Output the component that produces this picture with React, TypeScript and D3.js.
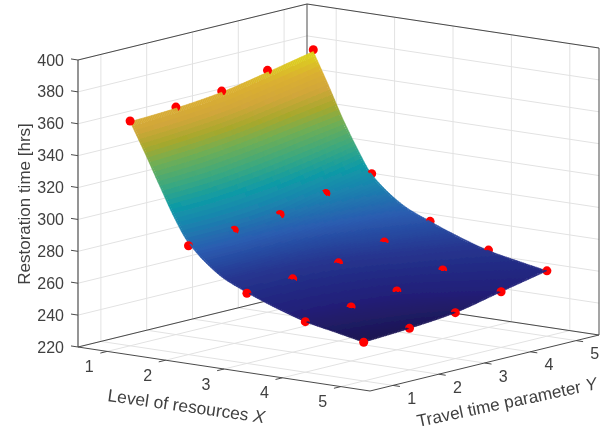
import React from "react";
import * as d3 from "d3";

const width = 613;
const height = 432;

// measured data points (red dots), rows are X = 1..5, columns are Y = 1..5
const levelX = [1, 2, 3, 4, 5];
const paramY = [1, 2, 3, 4, 5];
const dotsX1 = [361, 362.7, 365.7, 371.7, 377.6];
const dotsX2 = [288.3, 291, 293.8, 300, 305.4];
const dotsX3 = [264, 266, 269, 275, 281];
const dotsX4 = [251.7, 253.9, 256.9, 263, 268.5];
const dotsX5 = [244.3, 246, 248.8, 254.9, 261];
const dotRows = [dotsX1, dotsX2, dotsX3, dotsX4, dotsX5];

// fitted surface
const surfX = [1, 1.25, 1.5, 1.75, 2, 2.5, 3, 3.5, 4, 4.5, 5];
const surfRows = [
  [360.5, 362, 365, 370.5, 376.5],
  [342.5, 344.5, 347.5, 352.5, 357.5],
  [323.5, 325, 328.5, 333, 337.5],
  [305, 306, 309, 314, 320],
  [290, 290.3, 293, 299.3, 305],
  [273.5, 274.5, 277.5, 283.5, 289.5],
  [264.5, 265.5, 268.5, 274.8, 281],
  [257.5, 259, 262, 268, 274],
  [251.7, 253.2, 256.2, 262.5, 268.2],
  [248, 249.5, 252.3, 258.5, 264.4],
  [244.3, 246, 248.8, 254.9, 261],
];

const xTicks = [1, 2, 3, 4, 5];
const yTicks = [1, 2, 3, 4, 5];
const zTicks = [220, 240, 260, 280, 300, 320, 340, 360, 380, 400];

const colorStops = [244, 255, 270, 285, 300, 310, 322, 335, 345, 355, 365, 378];
const colorValues = [
  "#1c1650", "#231f78", "#25358f", "#2a5cb0", "#1a85ae", "#0f9aa6",
  "#3aa880", "#6fae55", "#a7a82c", "#d1a63a", "#dbb030", "#dcdc18",
];

const color = d3.scaleLinear<string>().domain(colorStops).range(colorValues).clamp(true);

const uScale = d3.scaleLinear().domain([0.5, 5.5]).range([0, 1]);
const vScale = d3.scaleLinear().domain([0.5, 5.5]).range([0, 1]);
const wScale = d3.scaleLinear().domain([220, 400]).range([0, 1]);

// oblique view of the unit box
const origin = [78, 347];
const ex = [292, 44];
const ey = [229, -56];
const ez = [0, -287];

const project = (x: number, y: number, z: number): [number, number] => {
  const u = uScale(x);
  const v = vScale(y);
  const w = wScale(z);
  return [
    origin[0] + u * ex[0] + v * ey[0] + w * ez[0],
    origin[1] + u * ex[1] + v * ey[1] + w * ez[1],
  ];
};

// bigger means closer to the viewer
const depth = (x: number, y: number, z: number) =>
  225 * uScale(x) - 286 * vScale(y) + 56 * wScale(z);

// cubic hermite through knots
const hermite = (xs: number[], ys: number[], t: number) => {
  const n = xs.length;
  let i = d3.bisectRight(xs, t) - 1;
  i = Math.max(0, Math.min(n - 2, i));
  const slope = (k: number) => {
    if (k === 0) return (ys[1] - ys[0]) / (xs[1] - xs[0]);
    if (k === n - 1) return (ys[n - 1] - ys[n - 2]) / (xs[n - 1] - xs[n - 2]);
    return (ys[k + 1] - ys[k - 1]) / (xs[k + 1] - xs[k - 1]);
  };
  const h = xs[i + 1] - xs[i];
  const s = (t - xs[i]) / h;
  const s2 = s * s;
  const s3 = s2 * s;
  return (
    (2 * s3 - 3 * s2 + 1) * ys[i] +
    (s3 - 2 * s2 + s) * h * slope(i) +
    (-2 * s3 + 3 * s2) * ys[i + 1] +
    (s3 - s2) * h * slope(i + 1)
  );
};

const surfaceAt = (x: number, y: number) => {
  const col = surfX.map((_, r) => hermite(paramY, surfRows[r], y));
  return hermite(surfX, col, x);
};

const N = 110;
const items: { d: number; el: React.ReactElement }[] = [];
const quadLine = d3.line();

for (let i = 0; i < N; i++) {
  for (let j = 0; j < N; j++) {
    const x0 = 1 + (4 * i) / N;
    const x1 = 1 + (4 * (i + 1)) / N;
    const y0 = 1 + (4 * j) / N;
    const y1 = 1 + (4 * (j + 1)) / N;
    const zc = surfaceAt((x0 + x1) / 2, (y0 + y1) / 2);
    const pts = [
      project(x0, y0, surfaceAt(x0, y0)),
      project(x1, y0, surfaceAt(x1, y0)),
      project(x1, y1, surfaceAt(x1, y1)),
      project(x0, y1, surfaceAt(x0, y1)),
    ];
    const c = color(zc);
    // outer cells stay antialiased so the silhouette is not stepped
    const outer = i === 0 || j === 0 || i === N - 1 || j === N - 1;
    items.push({
      d: depth((x0 + x1) / 2, (y0 + y1) / 2, zc),
      el: (
        <path
          key={`q${i}-${j}`}
          d={quadLine(pts) + "Z"}
          fill={c}
          stroke={c}
          strokeWidth={0.5}
          shapeRendering={outer ? "auto" : "crispEdges"}
        />
      ),
    });
  }
}

levelX.forEach((x, i) => {
  paramY.forEach((y, j) => {
    const z = dotRows[i][j];
    const [cx, cy] = project(x, y, z);
    items.push({
      d: depth(x, y, z),
      el: <circle key={`d${i}-${j}`} cx={cx} cy={cy} r={4.5} fill="#ff0000" />,
    });
  });
});

items.sort((a, b) => a.d - b.d);

const Seg = ({ a, b, color: stroke, w = 1 }: any) => (
  <line x1={a[0]} y1={a[1]} x2={b[0]} y2={b[1]} stroke={stroke} strokeWidth={w} />
);

const gridColor = "#e2e2e2";
const axisColor = "#4a4a4a";
const textColor = "#404040";
const font = "'Liberation Sans', Arial, sans-serif";

export default function App() {
  const xMin = 0.5;
  const xMax = 5.5;
  const yMin = 0.5;
  const yMax = 5.5;
  const zMin = 220;
  const zMax = 400;

  return (
    <svg
      width={width}
      height={height}
      style={{ position: "absolute", left: 0, top: 0, background: "#fff" }}
      fontFamily={font}
    >
      <defs>
        {/* the reference is a slightly soft raster */}
        <filter id="soft" filterUnits="userSpaceOnUse" x={0} y={0} width={width} height={height}>
          <feGaussianBlur stdDeviation={0.55} />
        </filter>
      </defs>
      <g filter="url(#soft)">
        {/* grid on the two back walls and the floor */}
        {xTicks.map((t) => (
          <g key={`gx${t}`}>
            <Seg a={project(t, yMin, zMin)} b={project(t, yMax, zMin)} color={gridColor} />
            <Seg a={project(t, yMax, zMin)} b={project(t, yMax, zMax)} color={gridColor} />
          </g>
        ))}
        {yTicks.map((t) => (
          <g key={`gy${t}`}>
            <Seg a={project(xMax, t, zMin)} b={project(xMin, t, zMin)} color={gridColor} />
            <Seg a={project(xMin, t, zMin)} b={project(xMin, t, zMax)} color={gridColor} />
          </g>
        ))}
        {zTicks.map((t) => (
          <g key={`gz${t}`}>
            <Seg a={project(xMin, yMin, t)} b={project(xMin, yMax, t)} color={gridColor} />
            <Seg a={project(xMin, yMax, t)} b={project(xMax, yMax, t)} color={gridColor} />
          </g>
        ))}

        {/* box edges */}
        <Seg a={project(xMin, yMin, zMin)} b={project(xMin, yMin, zMax)} color="#7a7a7a" w={1.6} />
        <Seg a={project(xMin, yMax, zMin)} b={project(xMin, yMax, zMax)} color={axisColor} />
        <Seg a={project(xMax, yMax, zMin)} b={project(xMax, yMax, zMax)} color={axisColor} />
        <Seg a={project(xMin, yMin, zMax)} b={project(xMin, yMax, zMax)} color={axisColor} />
        <Seg a={project(xMin, yMax, zMax)} b={project(xMax, yMax, zMax)} color={axisColor} />
        <Seg a={project(xMin, yMin, zMin)} b={project(xMin, yMax, zMin)} color={axisColor} />
        <Seg a={project(xMin, yMax, zMin)} b={project(xMax, yMax, zMin)} color={axisColor} />
        <Seg a={project(xMin, yMin, zMin)} b={project(xMax, yMin, zMin)} color={axisColor} />
        <Seg a={project(xMax, yMin, zMin)} b={project(xMax, yMax, zMin)} color={axisColor} />

        {/* surface and dots, back to front */}
        {items.map((it) => it.el)}

        {/* ticks and tick labels */}
        {xTicks.map((t) => {
          const p = project(t, yMin, zMin);
          const q = project(t, yMin - 0.15, zMin);
          return (
            <g key={`tx${t}`}>
              <Seg a={p} b={q} color={axisColor} />
              <text x={p[0] - 18} y={p[1] + 20.6} fontSize={16} fill={textColor} textAnchor="middle">
                {t}
              </text>
            </g>
          );
        })}
        {yTicks.map((t) => {
          const a = project(xMax, t, zMin);
          const b = project(xMax + 0.12, t, zMin);
          return (
            <g key={`ty${t}`}>
              <Seg a={a} b={b} color={axisColor} />
              <text x={a[0] + 18.7} y={a[1] + 18.5} fontSize={16} fill={textColor} textAnchor="middle">
                {t}
              </text>
            </g>
          );
        })}
        {zTicks.map((t) => {
          const p = project(xMin, yMin, t);
          const q = project(xMin - 0.12, yMin, t);
          return (
            <g key={`tz${t}`}>
              <Seg a={p} b={q} color={axisColor} />
              <text x={p[0] - 14} y={p[1] + 5.5} fontSize={16} fill={textColor} textAnchor="end">
                {t}
              </text>
            </g>
          );
        })}

        <text
          transform="translate(30,204) rotate(-90)"
          fontSize={17}
          fill={textColor}
          textAnchor="middle"
        >
          Restoration time [hrs]
        </text>
        <text
          transform="translate(185.5,412) rotate(8)"
          fontSize={17.4}
          fill={textColor}
          textAnchor="middle"
        >
          Level of resources <tspan fontStyle="italic">X</tspan>
        </text>
        <text
          transform="translate(508,408) rotate(-12)"
          fontSize={17.2}
          fill={textColor}
          textAnchor="middle"
        >
          Travel time parameter <tspan fontStyle="italic">Y</tspan>
        </text>
      </g>
    </svg>
  );
}
